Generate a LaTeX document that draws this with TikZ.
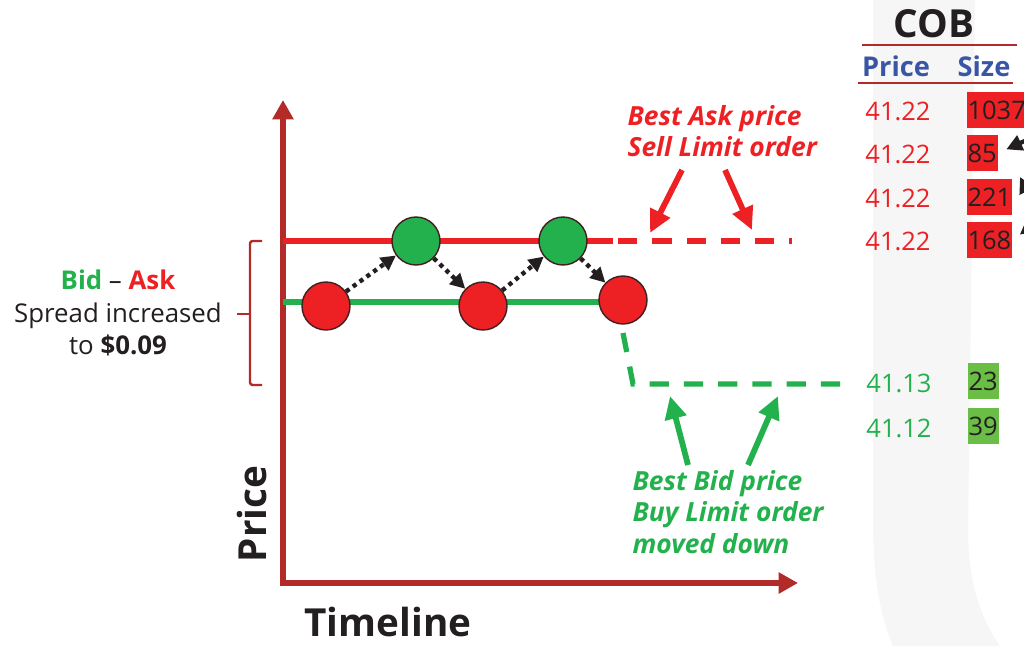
\documentclass[tikz,border=0pt]{standalone}
\usepackage{fontspec}
\setmainfont{Open Sans}
\usetikzlibrary{arrows.meta, positioning, calc}
\definecolor{askred}{HTML}{ED2024}
\definecolor{bidgreen}{HTML}{23B14D}
\definecolor{axisred}{HTML}{B32B28}
\definecolor{sizegreen}{HTML}{6ABD45}
\definecolor{headblue}{HTML}{3955A5}
\definecolor{ink}{HTML}{231F20}
\definecolor{bandgrey}{HTML}{F6F6F6}

\begin{document}
\begin{tikzpicture}[x=0.02cm, y=-0.02cm, semithick,
    order/.style={circle, draw=ink!85!askred, line width=0.8pt, minimum size=0.96cm, inner sep=0pt},
    move/.style={-{Triangle[length=8.5pt, width=8.5pt]}, ink, line width=2.5pt, dash pattern=on 2.4pt off 2.4pt},
    fat/.style={-{Triangle[length=13pt, width=12pt]}, line width=3.3pt},
    axis/.style={{Triangle[length=11pt, width=11.5pt]}-{Triangle[length=11pt, width=11.5pt]}, axisred, line width=3.7pt, line join=miter},
    orderdash/.style={line width=3pt, dash pattern=on 11pt off 8.5pt},
    quote/.style={font=\fontsize{14.5}{18}\selectfont, inner sep=0pt},
    tag/.style={font=\fontsize{15}{17.8}\selectfont\bfseries\itshape, inner sep=0pt, align=left, anchor=west},
    sizebox/.style={anchor=west, minimum height=0.72cm, inner xsep=0.6pt, inner ysep=0pt, text=ink, font=\fontsize{14.5}{18}\selectfont},
  ]
    \fill[white] (0,0) rectangle (1024,646);
    \useasboundingbox (0,0) rectangle (1024,646);
    % grey band behind the book
    \fill[bandgrey] (873,0) -- (975,0) -- (968,530) .. controls (968,590) and (985,625) .. (1000,646) -- (893,646) .. controls (878,610) and (873,570) .. (873,520) -- cycle;

    % axes
    \coordinate (ytop) at (283,100); \coordinate (origin) at (283,583); \coordinate (xend) at (798,583);
    \draw[axis] (ytop) -- (origin) -- (xend);
    \node[rotate=90, font=\fontsize{22}{26}\selectfont\bfseries, text=ink, inner sep=0pt] (ylabel) at (252,514) {Price};
    \node[font=\fontsize{22}{26}\selectfont\bfseries, text=ink, inner sep=0pt] (xlabel) at (388,622) {Timeline};

    % ask and bid lines
    \coordinate (askstart) at (283,241); \coordinate (askmid) at (613,241); \coordinate (askgo) at (618,241); \coordinate (askend) at (792,241);
    \draw[askred, line width=3pt] (askstart) -- (askmid);
    \draw[askred, orderdash] (askgo) -- (askend);
    \coordinate (bidstart) at (283,302); \coordinate (bidmid) at (610,302);
    \draw[bidgreen, line width=3pt] (bidstart) -- (bidmid);
    \coordinate (bidtop) at (623,333); \coordinate (bidcorner) at (633,384); \coordinate (bidend) at (847,384);
    \draw[bidgreen, orderdash] (bidtop) -- (bidcorner) -- (bidend);

    % orders
    \node[order, fill=askred] (r1) at (326,306) {};
    \node[order, fill=bidgreen] (g1) at (416,241) {};
    \node[order, fill=askred] (r2) at (483,306) {};
    \node[order, fill=bidgreen] (g2) at (563,241) {};
    \node[order, fill=askred] (r3) at (623,300) {};
    \draw[move] (r1) -- (g1);
    \draw[move] (g1) -- (r2);
    \draw[move] (r2) -- (g2);
    \draw[move] (g2) -- (r3);

    % spread bracket
    \draw[axisred, line width=1.4pt, rounded corners=1.5pt] (262,241) -- (250,241) -- (250,385) -- (262,385);
    \draw[axisred, line width=1.4pt] (250,314) -- (237,314);
    \node[align=center, font=\fontsize{14.7}{18.4}\selectfont, text=ink, inner sep=0pt] (spread) at (118,313) {\textcolor{bidgreen}{\bfseries Bid} -- \textcolor{askred}{\bfseries Ask}\\Spread increased\\to \textbf{\$0.09}};

    % labels with arrows
    \node[tag, text=askred] (asktxt) at (627,131) {Best Ask price\\Sell Limit order};
    \coordinate (aska) at (682,170); \coordinate (askhita) at (650,233);
    \coordinate (askb) at (725,170); \coordinate (askhitb) at (752,230);
    \draw[fat, askred] (aska) -- (askhita);
    \draw[fat, askred] (askb) -- (askhitb);
    \node[tag, text=bidgreen] (bidtxt) at (632,512) {Best Bid price\\Buy Limit order\\moved down};
    \coordinate (bida) at (688,465); \coordinate (bidhita) at (670,396);
    \coordinate (bidb) at (748,465); \coordinate (bidhitb) at (778,396);
    \draw[fat, bidgreen] (bida) -- (bidhita);
    \draw[fat, bidgreen] (bidb) -- (bidhitb);

    % COB table
    \node[font=\fontsize{22}{26}\selectfont\bfseries, text=ink, inner sep=0pt] (cob) at (934,24) {COB};
    \draw[axisred, line width=1.2pt] (862,45) -- (1017,45);
    \draw[axisred, line width=1.2pt] (858,83) -- (1013,83);
    \node[font=\fontsize{15.5}{18}\selectfont\bfseries, text=headblue, inner sep=0pt] (pricehead) at (896,66) {Price};
    \node[font=\fontsize{15.5}{18}\selectfont\bfseries, text=headblue, inner sep=0pt] (sizehead) at (984,66) {Size};
    \node[quote, text=askred] (p1) at (898,111) {41.22};
    \node[quote, text=askred] (p2) at (898,154) {41.22};
    \node[quote, text=askred] (p3) at (898,198) {41.22};
    \node[quote, text=askred] (p4) at (898,241) {41.22};
    \node[quote, text=bidgreen] (p5) at (899,383) {41.13};
    \node[quote, text=bidgreen] (p6) at (899,428) {41.12};
    \node[sizebox, fill=askred] (s1) at (966,110) {1037};
    \node[sizebox, fill=askred] (s2) at (966,153) {85};
    \node[sizebox, fill=askred] (s3) at (966,197) {221};
    \node[sizebox, fill=askred] (s4) at (966,240) {168};
    \node[sizebox, fill=sizegreen] (s5) at (967,381) {23};
    \node[sizebox, fill=sizegreen] (s6) at (967,426) {39};
    \begin{scope}
      \clip (0,0) rectangle (1024,646);
      \coordinate (pa) at (1040,134); \coordinate (pb) at (1034,205); \coordinate (pbhit) at (1020,177); \coordinate (pc) at (1036,222);
      \draw[ink, line width=2.4pt, -{Triangle[length=9pt, width=9pt]}, shorten >=5pt] (pa) -- (s2.east);
      \draw[ink, line width=2.4pt, -{Triangle[length=9pt, width=9pt]}] (pb) -- (pbhit);
      \draw[ink, line width=2.4pt, -{Triangle[length=9pt, width=9pt]}, shorten >=5pt] (pc) -- (s4.east);
    \end{scope}
  \end{tikzpicture}
\end{document}
